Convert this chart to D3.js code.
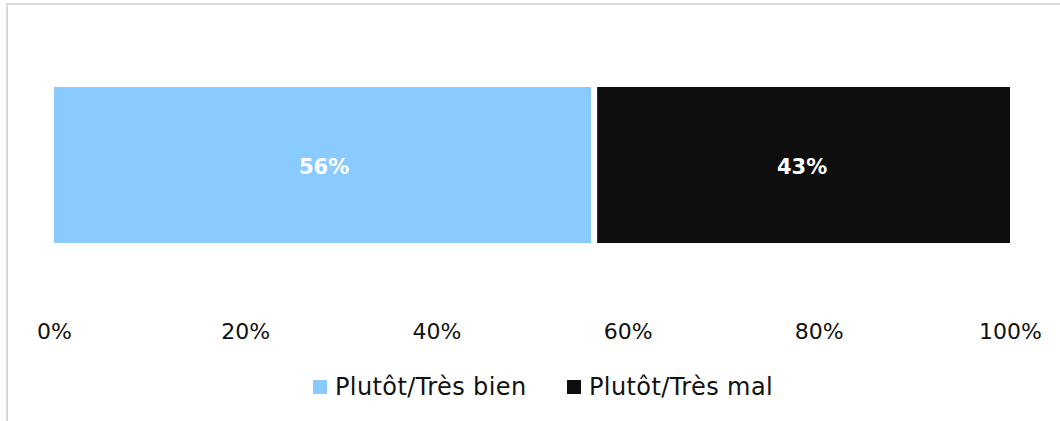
<!DOCTYPE html>
<html><head><meta charset="utf-8">
<script src="https://cdn.jsdelivr.net/npm/d3@7"></script>
<style>body{margin:0;background:#fff}svg{display:block}text{font-family:"DejaVu Sans",sans-serif}</style>
</head><body><svg id="c" width="1060" height="421"></svg>
<script>
const seriesNames = ["Plutôt/Très bien", "Plutôt/Très mal"];
const seriesValues = [56.5, 43.5];
const valueLabels = ["56%", "43%"];
const seriesColors = ["#89cbff", "#0e0e0e"];
const tickValues = [0, 20, 40, 60, 80, 100];
const tickLabels = ["0%", "20%", "40%", "60%", "80%", "100%"];

const svg = d3.select("#c");
// frame
svg.append("rect").attr("x", 7).attr("y", 4).attr("width", 1100).attr("height", 500)
  .attr("fill", "none").attr("stroke", "#d9d9d9").attr("stroke-width", 2);

const x = d3.scaleLinear().domain([0, 100]).range([54, 1010]);
const y = d3.scaleBand().domain(["row"]).range([87, 243]).padding(0);

let cum = 0;
const segs = seriesValues.map((v, i) => { const s = {i, start: cum, end: cum + v, v}; cum += v; return s; });
const gap = 3;
const g = svg.append("g");
g.selectAll("rect.bar").data(segs).join("rect").attr("class", "bar")
  .attr("x", d => x(d.start) + (d.i > 0 ? gap : 0))
  .attr("width", d => x(d.end) - x(d.start) - (d.i > 0 ? gap : 0) - (d.i < segs.length - 1 ? gap : 0))
  .attr("y", y("row")).attr("height", y.bandwidth())
  .attr("fill", d => seriesColors[d.i]);
g.selectAll("text.lab").data(segs).join("text").attr("class", "lab")
  .attr("x", d => (x(d.start) + x(d.end)) / 2)
  .attr("y", y("row") + y.bandwidth() / 2 + 9)
  .attr("text-anchor", "middle").attr("fill", "#fff")
  .style("font-weight", "bold").style("font-size", "21px")
  .text((d) => valueLabels[d.i]);

// axis
const axis = d3.axisBottom(x).tickValues(tickValues).tickFormat((d, i) => tickLabels[i]).tickSize(0).tickPadding(0);
const ag = svg.append("g").attr("transform", "translate(0,323)").call(axis);
ag.select(".domain").remove();
ag.selectAll("text").attr("fill", "#111").style("font-size", "22px").attr("dy", "0.71em").attr("y", 0);

// legend
const leg = svg.append("g");
const legX = [313, 567];
seriesNames.forEach((n, i) => {
  leg.append("rect").attr("x", legX[i]).attr("y", 380).attr("width", 14).attr("height", 14).attr("fill", seriesColors[i]);
  leg.append("text").attr("x", legX[i] + 22).attr("y", 395).attr("fill", "#111")
    .style("font-size", "24px").style("letter-spacing", "0.4px").text(n);
});
</script></body></html>
